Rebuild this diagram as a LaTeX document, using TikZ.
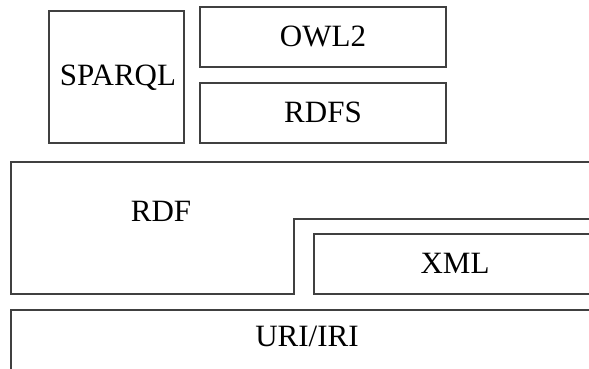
\documentclass[tikz,border=0pt]{standalone}
\usepackage{fontspec}
\setmainfont{Liberation Serif}
\begin{document}
\begin{tikzpicture}[x=1pt,y=-1pt,
  layer/.style={draw=black!75,line width=1.2pt},
  lbl/.style={anchor=base,inner sep=0pt,font=\fontsize{31}{36}\selectfont}]
\useasboundingbox (0,0) rectangle (589,369);
\clip (0,0) rectangle (589,369);
% query and ontology boxes
\draw[layer] (49,11) rectangle (184,143);
\draw[layer] (200,7) rectangle (446,67);
\draw[layer] (200,83) rectangle (446,143);
% RDF layer with its notch for XML
\draw[layer] (600,162) -- (11,162) -- (11,294) -- (294,294) -- (294,219) -- (600,219);
% XML, open on the right
\draw[layer] (600,234) -- (314,234) -- (314,294) -- (600,294);
% URI/IRI base layer
\draw[layer] (600,310) -- (11,310) -- (11,380);
% labels
\node[lbl] (sparql) at (118,85) {SPARQL};
\node[lbl] (owl) at (323,47) {OWL2};
\node[lbl] (rdfs) at (323,122) {RDFS};
\node[lbl] (rdf) at (161,221) {RDF};
\node[lbl] (xml) at (455,273) {XML};
\node[lbl] (uri) at (307,346) {URI/IRI};
\end{tikzpicture}
\end{document}
